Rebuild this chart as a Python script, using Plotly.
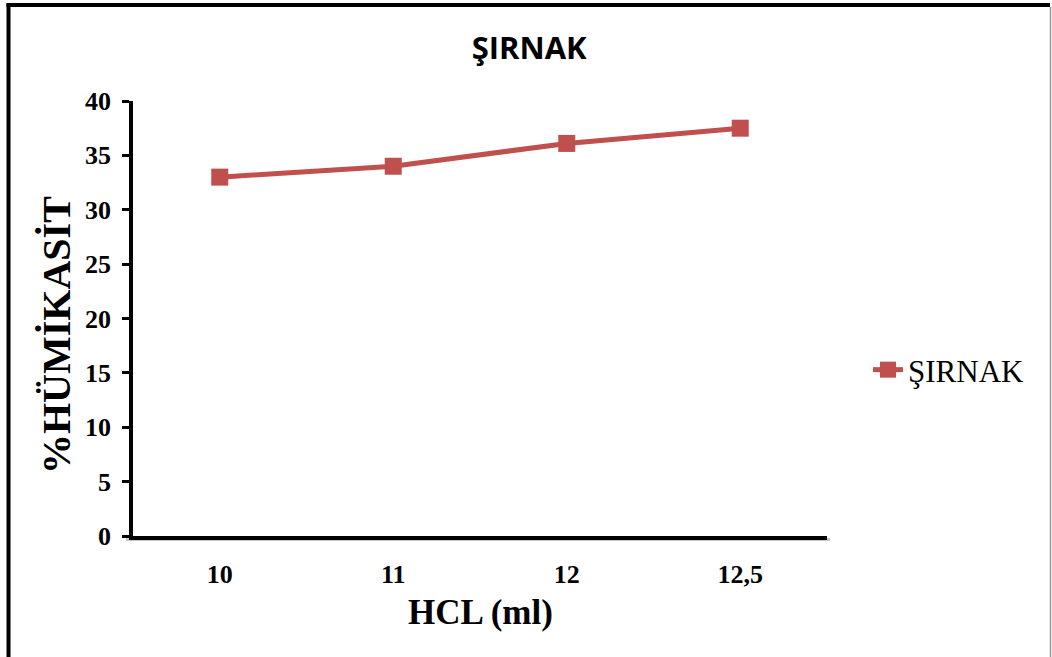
import plotly.graph_objects as go

# HCL volume (ml) and humic acid percentage for the ŞIRNAK sample
hcl_labels = ["10", "11", "12", "12,5"]
humic_pct = [33.0, 34.0, 36.1, 37.5]
y_ticks = [0, 5, 10, 15, 20, 25, 30, 35, 40]
series_name = "ŞIRNAK"

RED = "#C0504D"
SERIF = "Liberation Serif, Times New Roman, serif"

W, H = 1052, 657
ML, MR, MT, MB = 133, 225, 101, 121
PW, PH = W - ML - MR, H - MT - MB


def px_x(px):
    return (px - ML) / PW


def px_y(py):
    return (H - MB - py) / PH


fig = go.Figure()
fig.add_trace(go.Scatter(
    x=hcl_labels, y=humic_pct, name=series_name,
    mode="lines+markers",
    line=dict(color=RED, width=5),
    marker=dict(symbol="square", size=17, color=RED),
    cliponaxis=False,
))

shapes = [
    # outer frame
    dict(type="line", xref="paper", yref="paper",
         x0=px_x(8.5), x1=px_x(8.5), y0=px_y(3), y1=px_y(660),
         line=dict(color="black", width=4)),
    dict(type="line", xref="paper", yref="paper",
         x0=px_x(6.5), x1=px_x(1050), y0=px_y(5), y1=px_y(5),
         line=dict(color="black", width=4)),
    dict(type="line", xref="paper", yref="paper",
         x0=px_x(1050.5), x1=px_x(1050.5), y0=px_y(7), y1=px_y(660),
         line=dict(color="#9a9a9a", width=1.5)),
    # soft shadow under the x axis line
    dict(type="line", xref="paper", yref="paper", layer="below",
         x0=px_x(126), x1=px_x(830), y0=px_y(539.5), y1=px_y(539.5),
         line=dict(color="rgba(0,0,0,0.22)", width=3)),
]

annotations = [
    dict(text="<b>%HÜMİKASİT</b>", xref="paper", yref="paper",
         x=px_x(56), y=px_y(335), xanchor="center", yanchor="middle",
         textangle=-90, showarrow=False,
         font=dict(family=SERIF, size=40, color="black")),
    dict(text="<b>HCL (ml)</b>", xref="paper", yref="paper",
         x=px_x(480), y=px_y(612), xanchor="center", yanchor="middle",
         showarrow=False,
         font=dict(family=SERIF, size=35, color="black")),
]

fig.update_layout(
    width=W, height=H,
    margin=dict(l=ML, r=MR, t=MT, b=MB),
    paper_bgcolor="white", plot_bgcolor="white",
    title=dict(text="<b>ŞIRNAK</b>", x=0.503, xanchor="center",
               y=1 - 48 / H, yanchor="middle",
               font=dict(family="Open Sans, sans-serif", size=31, color="black")),
    showlegend=True,
    legend=dict(x=px_x(868), y=px_y(370), xanchor="left", yanchor="middle",
                font=dict(family=SERIF, size=31, color="black"),
                bgcolor="rgba(0,0,0,0)", itemwidth=30),
    shapes=shapes,
    annotations=annotations,
)

fig.update_xaxes(
    type="category", range=[-0.5, 3.5],
    showline=True, linecolor="black", linewidth=3.5,
    showgrid=False, ticks="", zeroline=False,
    tickfont=dict(family=SERIF, size=26, color="black", weight="bold"),
    ticklabelstandoff=12,
)
fig.update_yaxes(
    range=[0, 40], tickvals=y_ticks,
    showline=True, linecolor="black", linewidth=3.5,
    showgrid=False, zeroline=False,
    ticks="outside", ticklen=7, tickwidth=3, tickcolor="black",
    tickfont=dict(family=SERIF, size=26, color="black", weight="bold"),
    ticklabelstandoff=6,
)

fig.write_html("out.html")
